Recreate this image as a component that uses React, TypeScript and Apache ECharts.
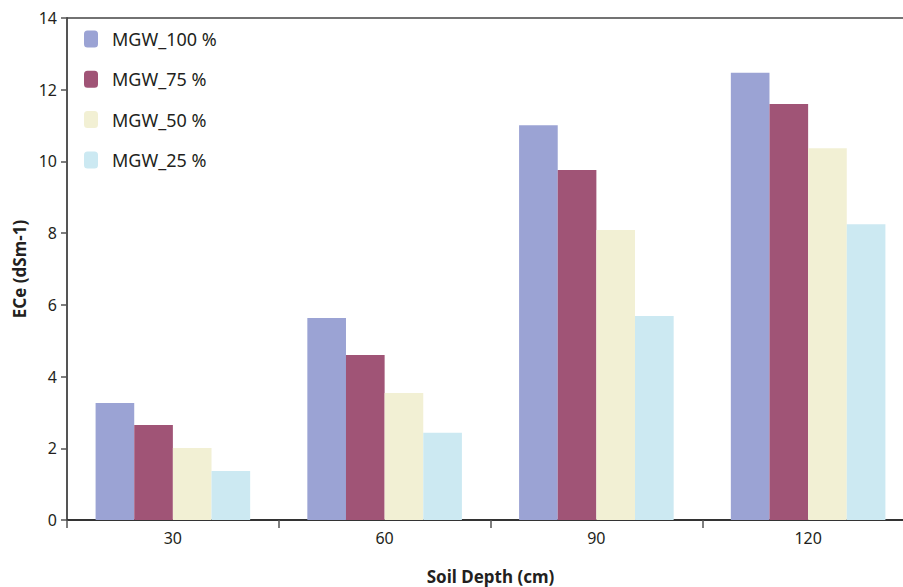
import React, { useEffect, useRef } from "react";
import * as echarts from "echarts";

const categories = ["30", "60", "90", "120"];
const seriesNames = ["MGW_100 %", "MGW_75 %", "MGW_50 %", "MGW_25 %"];
const mgw100 = [3.26, 5.63, 11.01, 12.47];
const mgw75 = [2.65, 4.6, 9.76, 11.6];
const mgw50 = [2.01, 3.54, 8.09, 10.37];
const mgw25 = [1.37, 2.43, 5.69, 8.25];
const colors = ["#9BA3D4", "#A05476", "#F2F0D4", "#CCE9F2"];

const FONT = "Noto Sans";
const TEXT = "#231F20";

export default function App() {
  const ref = useRef<HTMLDivElement>(null);
  useEffect(() => {
    if (!ref.current) return;
    const chart = echarts.init(ref.current, null, { renderer: "svg" });
    const values = [mgw100, mgw75, mgw50, mgw25];
    chart.setOption({
      animation: false,
      textStyle: { fontFamily: FONT, color: TEXT },
      grid: {
        left: 67,
        top: 18,
        width: 847,
        height: 502,
        show: false,
        containLabel: false,
        outerBoundsMode: "none",
      },
      legend: {
        orient: "vertical",
        left: 84,
        top: 30,
        padding: 0,
        itemWidth: 14,
        itemHeight: 17,
        itemGap: 22.3,
        textStyle: { fontFamily: FONT, fontSize: 18, color: TEXT, padding: [0, 0, 0, 9] },
        data: seriesNames,
      },
      xAxis: [
        {
          type: "category",
          data: categories,
          axisLine: { lineStyle: { color: "#333", width: 2 } },
          axisTick: { show: true, length: 8, lineStyle: { color: "#555", width: 1.5 } },
          axisLabel: { fontFamily: FONT, fontSize: 16, color: TEXT, margin: 10 },
          name: "Soil Depth (cm)",
          nameLocation: "middle",
          nameGap: 48,
          nameTextStyle: { fontFamily: FONT, fontSize: 17, fontWeight: "bold", color: TEXT },
        },
        {
          type: "category",
          position: "top",
          data: categories,
          axisLine: { show: true, lineStyle: { color: "#444", width: 1.5 } },
          axisTick: { show: false },
          axisLabel: { show: false },
        },
      ],
      yAxis: {
        type: "value",
        min: 0,
        max: 14,
        interval: 2,
        axisLine: { show: true, lineStyle: { color: "#555", width: 2 } },
        axisTick: { show: true, length: 6, lineStyle: { color: "#555", width: 1.5 } },
        axisLabel: { fontFamily: FONT, fontSize: 16, color: TEXT, margin: 10 },
        splitLine: { show: false },
        name: "ECe (dSm-1)",
        nameLocation: "middle",
        nameGap: 37,
        nameTextStyle: { fontFamily: FONT, fontSize: 17, fontWeight: "bold", color: TEXT },
      },
      series: seriesNames.map((name, i) => ({
        name,
        type: "bar",
        data: values[i],
        barGap: "0%",
        barCategoryGap: "27%",
        itemStyle: { color: colors[i] },
      })),
    });
    return () => chart.dispose();
  }, []);
  return <div ref={ref} style={{ width: 903, height: 587, position: "absolute", left: 0, top: 0 }} />;
}
